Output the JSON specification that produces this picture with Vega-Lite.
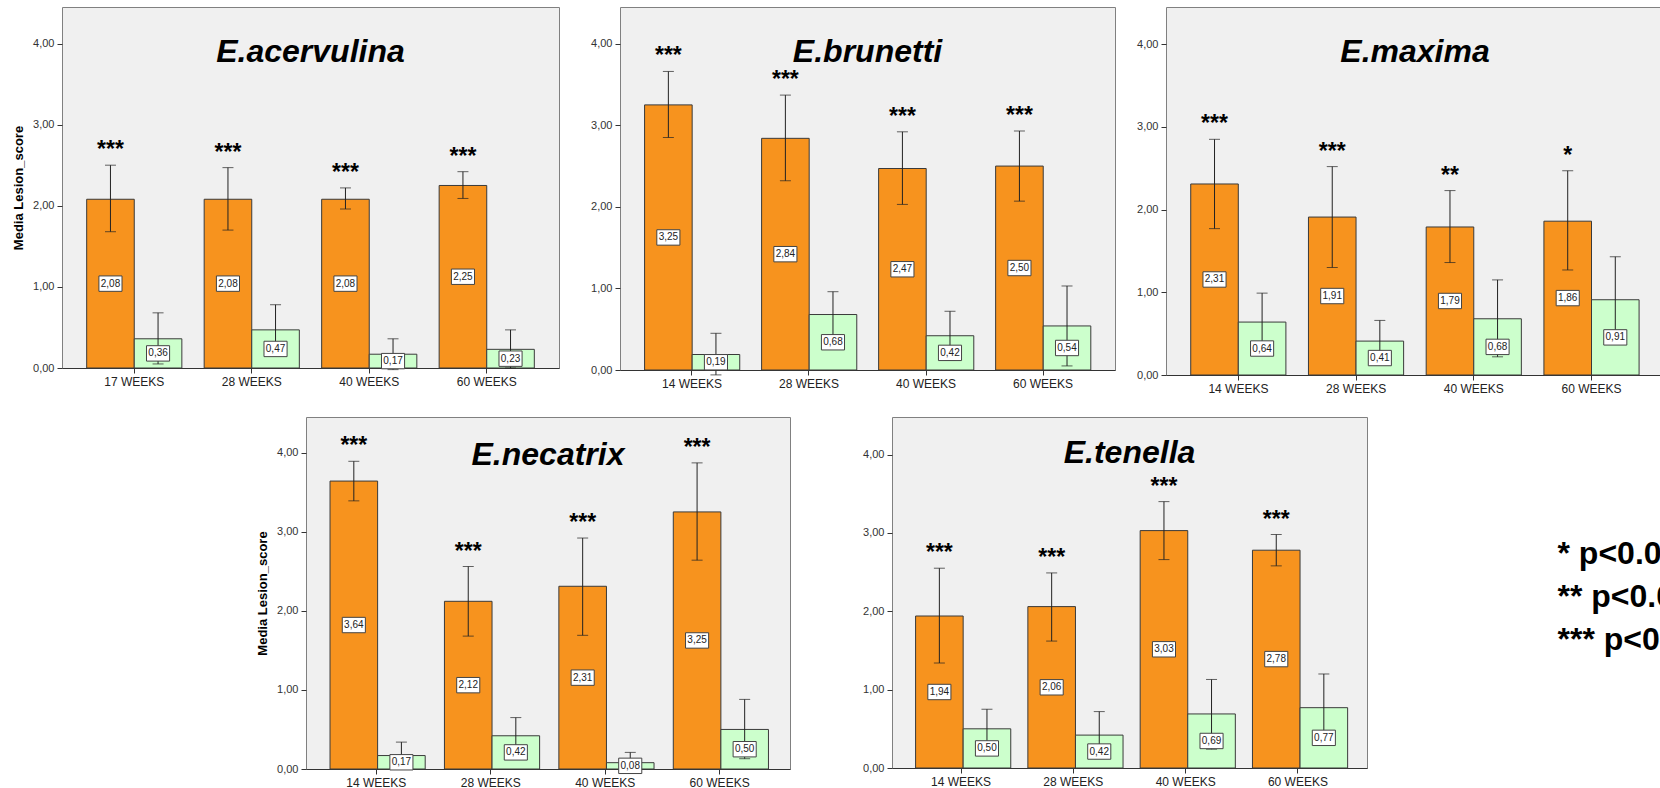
{
  "$schema": "https://vega.github.io/schema/vega-lite/v6.json",
  "padding": {"left": 11, "top": 6, "right": 0, "bottom": 0},
  "background": "white",
  "config": {
    "locale": {"number": {"decimal": ",", "thousands": ".", "grouping": [3], "currency": ["", " €"]}},
    "view": {"fill": "#F0F0F0", "stroke": "#808080", "strokeWidth": 1},
    "font": "Liberation Sans",
    "text": {"font": "Liberation Sans"},
    "axisX": {"labelAngle": 0, "labelFontSize": 12, "tickSize": 5, "labelPadding": 3, "domainColor": "#333333", "tickColor": "#333333", "labelColor": "#222222", "title": null},
    "axisY": {"grid": false, "domain": false, "tickSize": 5, "tickColor": "#333333", "labelPadding": 3, "labelFontSize": 11, "labelColor": "#333333", "titleFontSize": 13, "titleFontWeight": "bold", "titlePadding": 5, "titleColor": "black"}
  },
  "datasets": {
    "lesion": [
      {"species": "E.acervulina", "week": "17 WEEKS", "group": "A", "mean": 2.08, "lo": 1.68, "hi": 2.50, "sig": "***"},
      {"species": "E.acervulina", "week": "17 WEEKS", "group": "B", "mean": 0.36, "lo": 0.05, "hi": 0.68, "sig": ""},
      {"species": "E.acervulina", "week": "28 WEEKS", "group": "A", "mean": 2.08, "lo": 1.70, "hi": 2.47, "sig": "***"},
      {"species": "E.acervulina", "week": "28 WEEKS", "group": "B", "mean": 0.47, "lo": 0.16, "hi": 0.78, "sig": ""},
      {"species": "E.acervulina", "week": "40 WEEKS", "group": "A", "mean": 2.08, "lo": 1.96, "hi": 2.22, "sig": "***"},
      {"species": "E.acervulina", "week": "40 WEEKS", "group": "B", "mean": 0.17, "lo": -0.02, "hi": 0.36, "sig": ""},
      {"species": "E.acervulina", "week": "60 WEEKS", "group": "A", "mean": 2.25, "lo": 2.09, "hi": 2.42, "sig": "***"},
      {"species": "E.acervulina", "week": "60 WEEKS", "group": "B", "mean": 0.23, "lo": 0.00, "hi": 0.47, "sig": ""},
      {"species": "E.brunetti", "week": "14 WEEKS", "group": "A", "mean": 3.25, "lo": 2.85, "hi": 3.66, "sig": "***"},
      {"species": "E.brunetti", "week": "14 WEEKS", "group": "B", "mean": 0.19, "lo": -0.06, "hi": 0.45, "sig": ""},
      {"species": "E.brunetti", "week": "28 WEEKS", "group": "A", "mean": 2.84, "lo": 2.32, "hi": 3.37, "sig": "***"},
      {"species": "E.brunetti", "week": "28 WEEKS", "group": "B", "mean": 0.68, "lo": 0.39, "hi": 0.96, "sig": ""},
      {"species": "E.brunetti", "week": "40 WEEKS", "group": "A", "mean": 2.47, "lo": 2.03, "hi": 2.92, "sig": "***"},
      {"species": "E.brunetti", "week": "40 WEEKS", "group": "B", "mean": 0.42, "lo": 0.12, "hi": 0.72, "sig": ""},
      {"species": "E.brunetti", "week": "60 WEEKS", "group": "A", "mean": 2.50, "lo": 2.07, "hi": 2.93, "sig": "***"},
      {"species": "E.brunetti", "week": "60 WEEKS", "group": "B", "mean": 0.54, "lo": 0.05, "hi": 1.03, "sig": ""},
      {"species": "E.maxima", "week": "14 WEEKS", "group": "A", "mean": 2.31, "lo": 1.77, "hi": 2.85, "sig": "***"},
      {"species": "E.maxima", "week": "14 WEEKS", "group": "B", "mean": 0.64, "lo": 0.29, "hi": 0.99, "sig": ""},
      {"species": "E.maxima", "week": "28 WEEKS", "group": "A", "mean": 1.91, "lo": 1.30, "hi": 2.52, "sig": "***"},
      {"species": "E.maxima", "week": "28 WEEKS", "group": "B", "mean": 0.41, "lo": 0.16, "hi": 0.66, "sig": ""},
      {"species": "E.maxima", "week": "40 WEEKS", "group": "A", "mean": 1.79, "lo": 1.36, "hi": 2.23, "sig": "**"},
      {"species": "E.maxima", "week": "40 WEEKS", "group": "B", "mean": 0.68, "lo": 0.22, "hi": 1.15, "sig": ""},
      {"species": "E.maxima", "week": "60 WEEKS", "group": "A", "mean": 1.86, "lo": 1.27, "hi": 2.47, "sig": "*"},
      {"species": "E.maxima", "week": "60 WEEKS", "group": "B", "mean": 0.91, "lo": 0.39, "hi": 1.43, "sig": ""},
      {"species": "E.necatrix", "week": "14 WEEKS", "group": "A", "mean": 3.64, "lo": 3.39, "hi": 3.89, "sig": "***"},
      {"species": "E.necatrix", "week": "14 WEEKS", "group": "B", "mean": 0.17, "lo": 0.00, "hi": 0.34, "sig": ""},
      {"species": "E.necatrix", "week": "28 WEEKS", "group": "A", "mean": 2.12, "lo": 1.68, "hi": 2.56, "sig": "***"},
      {"species": "E.necatrix", "week": "28 WEEKS", "group": "B", "mean": 0.42, "lo": 0.19, "hi": 0.65, "sig": ""},
      {"species": "E.necatrix", "week": "40 WEEKS", "group": "A", "mean": 2.31, "lo": 1.69, "hi": 2.92, "sig": "***"},
      {"species": "E.necatrix", "week": "40 WEEKS", "group": "B", "mean": 0.08, "lo": -0.04, "hi": 0.21, "sig": ""},
      {"species": "E.necatrix", "week": "60 WEEKS", "group": "A", "mean": 3.25, "lo": 2.64, "hi": 3.87, "sig": "***"},
      {"species": "E.necatrix", "week": "60 WEEKS", "group": "B", "mean": 0.50, "lo": 0.13, "hi": 0.88, "sig": ""},
      {"species": "E.tenella", "week": "14 WEEKS", "group": "A", "mean": 1.94, "lo": 1.34, "hi": 2.55, "sig": "***"},
      {"species": "E.tenella", "week": "14 WEEKS", "group": "B", "mean": 0.50, "lo": 0.25, "hi": 0.75, "sig": ""},
      {"species": "E.tenella", "week": "28 WEEKS", "group": "A", "mean": 2.06, "lo": 1.62, "hi": 2.49, "sig": "***"},
      {"species": "E.tenella", "week": "28 WEEKS", "group": "B", "mean": 0.42, "lo": 0.12, "hi": 0.72, "sig": ""},
      {"species": "E.tenella", "week": "40 WEEKS", "group": "A", "mean": 3.03, "lo": 2.66, "hi": 3.40, "sig": "***"},
      {"species": "E.tenella", "week": "40 WEEKS", "group": "B", "mean": 0.69, "lo": 0.24, "hi": 1.13, "sig": ""},
      {"species": "E.tenella", "week": "60 WEEKS", "group": "A", "mean": 2.78, "lo": 2.58, "hi": 2.98, "sig": "***"},
      {"species": "E.tenella", "week": "60 WEEKS", "group": "B", "mean": 0.77, "lo": 0.34, "hi": 1.20, "sig": ""}
    ]
  },
  "spacing": 21,
  "vconcat": [
    {
      "spacing": 17,
      "hconcat": [
        {
          "width": 497, "height": 361,
          "data": {"name": "lesion"},
          "transform": [{"filter": {"field": "species", "equal": "E.acervulina"}}],
          "title": {"text": "E.acervulina", "offset": -87, "baseline": "alphabetic", "frame": "group", "anchor": "middle", "fontSize": 32, "fontStyle": "italic", "fontWeight": "bold", "font": "Liberation Sans", "color": "black"},
          "encoding": {
            "x": {"field": "week", "type": "nominal", "sort": null, "scale": {"paddingInner": 0.19, "paddingOuter": 0.21}},
            "xOffset": {"field": "group", "type": "nominal", "sort": null, "scale": {"paddingInner": 0, "paddingOuter": 0}}
          },
          "layer": [
            {"layer": [
              {"mark": {"type": "bar", "stroke": "#3a3a3a", "strokeWidth": 1},
               "encoding": {
                 "y": {"field": "mean", "type": "quantitative", "scale": {"domain": [0, 4.45], "nice": false}, "axis": {"title": "Media Lesion_score", "values": [0, 1, 2, 3, 4], "format": ".2f", "minExtent": 32, "maxExtent": 32}},
                 "color": {"field": "group", "type": "nominal", "scale": {"domain": ["A", "B"], "range": ["#F7931E", "#CCFFCC"]}, "legend": null}}},
              {"mark": {"type": "rule", "color": "#222222", "strokeWidth": 1},
               "encoding": {"y": {"field": "lo", "type": "quantitative"}, "y2": {"field": "hi"}}},
              {"mark": {"type": "tick", "color": "#222222", "size": 11, "thickness": 1},
               "encoding": {"y": {"field": "lo", "type": "quantitative"}}},
              {"mark": {"type": "tick", "color": "#222222", "size": 11, "thickness": 1},
               "encoding": {"y": {"field": "hi", "type": "quantitative"}}},
              {"mark": {"type": "text", "fontSize": 23, "fontWeight": "bold", "baseline": "alphabetic", "dy": -8, "color": "black"},
               "encoding": {"y": {"field": "hi", "type": "quantitative"}, "text": {"field": "sig"}}}
            ]},
            {"layer": [
              {"mark": {"type": "point", "shape": "M-1.5,-1H1.5V1H-1.5Z", "size": 237, "filled": true, "fill": "white", "stroke": "#444444", "strokeWidth": 1, "opacity": 1},
               "encoding": {"y": {"field": "mean", "type": "quantitative", "scale": {"domain": [0, 8.9], "nice": false}, "axis": null}}},
              {"mark": {"type": "text", "fontSize": 10, "baseline": "middle", "color": "#222222"},
               "encoding": {"y": {"field": "mean", "type": "quantitative", "axis": null}, "text": {"field": "mean", "type": "quantitative", "format": ".2f"}}}
            ]}
          ],
          "resolve": {"scale": {"y": "independent"}}
        },
        {
          "width": 495, "height": 363,
          "data": {"name": "lesion"},
          "transform": [{"filter": {"field": "species", "equal": "E.brunetti"}}],
          "title": {"text": "E.brunetti", "offset": -87, "baseline": "alphabetic", "frame": "group", "anchor": "middle", "fontSize": 32, "fontStyle": "italic", "fontWeight": "bold", "font": "Liberation Sans", "color": "black"},
          "encoding": {
            "x": {"field": "week", "type": "nominal", "sort": null, "scale": {"paddingInner": 0.19, "paddingOuter": 0.21}},
            "xOffset": {"field": "group", "type": "nominal", "sort": null, "scale": {"paddingInner": 0, "paddingOuter": 0}}
          },
          "layer": [
            {"layer": [
              {"mark": {"type": "bar", "stroke": "#3a3a3a", "strokeWidth": 1},
               "encoding": {
                 "y": {"field": "mean", "type": "quantitative", "scale": {"domain": [0, 4.45], "nice": false}, "axis": {"title": null, "values": [0, 1, 2, 3, 4], "format": ".2f", "minExtent": 42, "maxExtent": 42}},
                 "color": {"field": "group", "type": "nominal", "scale": {"domain": ["A", "B"], "range": ["#F7931E", "#CCFFCC"]}, "legend": null}}},
              {"mark": {"type": "rule", "color": "#222222", "strokeWidth": 1},
               "encoding": {"y": {"field": "lo", "type": "quantitative"}, "y2": {"field": "hi"}}},
              {"mark": {"type": "tick", "color": "#222222", "size": 11, "thickness": 1},
               "encoding": {"y": {"field": "lo", "type": "quantitative"}}},
              {"mark": {"type": "tick", "color": "#222222", "size": 11, "thickness": 1},
               "encoding": {"y": {"field": "hi", "type": "quantitative"}}},
              {"mark": {"type": "text", "fontSize": 23, "fontWeight": "bold", "baseline": "alphabetic", "dy": -8, "color": "black"},
               "encoding": {"y": {"field": "hi", "type": "quantitative"}, "text": {"field": "sig"}}}
            ]},
            {"layer": [
              {"mark": {"type": "point", "shape": "M-1.5,-1H1.5V1H-1.5Z", "size": 237, "filled": true, "fill": "white", "stroke": "#444444", "strokeWidth": 1, "opacity": 1},
               "encoding": {"y": {"field": "mean", "type": "quantitative", "scale": {"domain": [0, 8.9], "nice": false}, "axis": null}}},
              {"mark": {"type": "text", "fontSize": 10, "baseline": "middle", "color": "#222222"},
               "encoding": {"y": {"field": "mean", "type": "quantitative", "axis": null}, "text": {"field": "mean", "type": "quantitative", "format": ".2f"}}}
            ]}
          ],
          "resolve": {"scale": {"y": "independent"}}
        },
        {
          "width": 498, "height": 368,
          "data": {"name": "lesion"},
          "transform": [{"filter": {"field": "species", "equal": "E.maxima"}}],
          "title": {"text": "E.maxima", "offset": -87, "baseline": "alphabetic", "frame": "group", "anchor": "middle", "fontSize": 32, "fontStyle": "italic", "fontWeight": "bold", "font": "Liberation Sans", "color": "black"},
          "encoding": {
            "x": {"field": "week", "type": "nominal", "sort": null, "scale": {"paddingInner": 0.19, "paddingOuter": 0.21}},
            "xOffset": {"field": "group", "type": "nominal", "sort": null, "scale": {"paddingInner": 0, "paddingOuter": 0}}
          },
          "layer": [
            {"layer": [
              {"mark": {"type": "bar", "stroke": "#3a3a3a", "strokeWidth": 1},
               "encoding": {
                 "y": {"field": "mean", "type": "quantitative", "scale": {"domain": [0, 4.45], "nice": false}, "axis": {"title": null, "values": [0, 1, 2, 3, 4], "format": ".2f", "minExtent": 32, "maxExtent": 32}},
                 "color": {"field": "group", "type": "nominal", "scale": {"domain": ["A", "B"], "range": ["#F7931E", "#CCFFCC"]}, "legend": null}}},
              {"mark": {"type": "rule", "color": "#222222", "strokeWidth": 1},
               "encoding": {"y": {"field": "lo", "type": "quantitative"}, "y2": {"field": "hi"}}},
              {"mark": {"type": "tick", "color": "#222222", "size": 11, "thickness": 1},
               "encoding": {"y": {"field": "lo", "type": "quantitative"}}},
              {"mark": {"type": "tick", "color": "#222222", "size": 11, "thickness": 1},
               "encoding": {"y": {"field": "hi", "type": "quantitative"}}},
              {"mark": {"type": "text", "fontSize": 23, "fontWeight": "bold", "baseline": "alphabetic", "dy": -8, "color": "black"},
               "encoding": {"y": {"field": "hi", "type": "quantitative"}, "text": {"field": "sig"}}}
            ]},
            {"layer": [
              {"mark": {"type": "point", "shape": "M-1.5,-1H1.5V1H-1.5Z", "size": 237, "filled": true, "fill": "white", "stroke": "#444444", "strokeWidth": 1, "opacity": 1},
               "encoding": {"y": {"field": "mean", "type": "quantitative", "scale": {"domain": [0, 8.9], "nice": false}, "axis": null}}},
              {"mark": {"type": "text", "fontSize": 10, "baseline": "middle", "color": "#222222"},
               "encoding": {"y": {"field": "mean", "type": "quantitative", "axis": null}, "text": {"field": "mean", "type": "quantitative", "format": ".2f"}}}
            ]}
          ],
          "resolve": {"scale": {"y": "independent"}}
        }
      ]
    },
    {
      "spacing": 68,
      "hconcat": [
        {
          "width": 125, "height": 352,
          "data": {"values": []},
          "mark": {"type": "point", "opacity": 0},
          "view": {"fill": null, "stroke": null}
        },
        {
          "width": 484, "height": 352,
          "data": {"name": "lesion"},
          "transform": [{"filter": {"field": "species", "equal": "E.necatrix"}}],
          "title": {"text": "E.necatrix", "offset": -80, "baseline": "alphabetic", "frame": "group", "anchor": "middle", "fontSize": 32, "fontStyle": "italic", "fontWeight": "bold", "font": "Liberation Sans", "color": "black"},
          "encoding": {
            "x": {"field": "week", "type": "nominal", "sort": null, "scale": {"paddingInner": 0.19, "paddingOuter": 0.21}},
            "xOffset": {"field": "group", "type": "nominal", "sort": null, "scale": {"paddingInner": 0, "paddingOuter": 0}}
          },
          "layer": [
            {"layer": [
              {"mark": {"type": "bar", "stroke": "#3a3a3a", "strokeWidth": 1},
               "encoding": {
                 "y": {"field": "mean", "type": "quantitative", "scale": {"domain": [0, 4.45], "nice": false}, "axis": {"title": "Media Lesion_score", "values": [0, 1, 2, 3, 4], "format": ".2f", "minExtent": 32, "maxExtent": 32}},
                 "color": {"field": "group", "type": "nominal", "scale": {"domain": ["A", "B"], "range": ["#F7931E", "#CCFFCC"]}, "legend": null}}},
              {"mark": {"type": "rule", "color": "#222222", "strokeWidth": 1},
               "encoding": {"y": {"field": "lo", "type": "quantitative"}, "y2": {"field": "hi"}}},
              {"mark": {"type": "tick", "color": "#222222", "size": 11, "thickness": 1},
               "encoding": {"y": {"field": "lo", "type": "quantitative"}}},
              {"mark": {"type": "tick", "color": "#222222", "size": 11, "thickness": 1},
               "encoding": {"y": {"field": "hi", "type": "quantitative"}}},
              {"mark": {"type": "text", "fontSize": 23, "fontWeight": "bold", "baseline": "alphabetic", "dy": -8, "color": "black"},
               "encoding": {"y": {"field": "hi", "type": "quantitative"}, "text": {"field": "sig"}}}
            ]},
            {"layer": [
              {"mark": {"type": "point", "shape": "M-1.5,-1H1.5V1H-1.5Z", "size": 237, "filled": true, "fill": "white", "stroke": "#444444", "strokeWidth": 1, "opacity": 1},
               "encoding": {"y": {"field": "mean", "type": "quantitative", "scale": {"domain": [0, 8.9], "nice": false}, "axis": null}}},
              {"mark": {"type": "text", "fontSize": 10, "baseline": "middle", "color": "#222222"},
               "encoding": {"y": {"field": "mean", "type": "quantitative", "axis": null}, "text": {"field": "mean", "type": "quantitative", "format": ".2f"}}}
            ]}
          ],
          "resolve": {"scale": {"y": "independent"}}
        },
        {
          "width": 475, "height": 351,
          "data": {"name": "lesion"},
          "transform": [{"filter": {"field": "species", "equal": "E.tenella"}}],
          "title": {"text": "E.tenella", "offset": -78, "baseline": "alphabetic", "frame": "group", "anchor": "middle", "fontSize": 32, "fontStyle": "italic", "fontWeight": "bold", "font": "Liberation Sans", "color": "black"},
          "encoding": {
            "x": {"field": "week", "type": "nominal", "sort": null, "scale": {"paddingInner": 0.19, "paddingOuter": 0.21}},
            "xOffset": {"field": "group", "type": "nominal", "sort": null, "scale": {"paddingInner": 0, "paddingOuter": 0}}
          },
          "layer": [
            {"layer": [
              {"mark": {"type": "bar", "stroke": "#3a3a3a", "strokeWidth": 1},
               "encoding": {
                 "y": {"field": "mean", "type": "quantitative", "scale": {"domain": [0, 4.48], "nice": false}, "axis": {"title": null, "values": [0, 1, 2, 3, 4], "format": ".2f", "minExtent": 32, "maxExtent": 32}},
                 "color": {"field": "group", "type": "nominal", "scale": {"domain": ["A", "B"], "range": ["#F7931E", "#CCFFCC"]}, "legend": null}}},
              {"mark": {"type": "rule", "color": "#222222", "strokeWidth": 1},
               "encoding": {"y": {"field": "lo", "type": "quantitative"}, "y2": {"field": "hi"}}},
              {"mark": {"type": "tick", "color": "#222222", "size": 11, "thickness": 1},
               "encoding": {"y": {"field": "lo", "type": "quantitative"}}},
              {"mark": {"type": "tick", "color": "#222222", "size": 11, "thickness": 1},
               "encoding": {"y": {"field": "hi", "type": "quantitative"}}},
              {"mark": {"type": "text", "fontSize": 23, "fontWeight": "bold", "baseline": "alphabetic", "dy": -8, "color": "black"},
               "encoding": {"y": {"field": "hi", "type": "quantitative"}, "text": {"field": "sig"}}}
            ]},
            {"layer": [
              {"mark": {"type": "point", "shape": "M-1.5,-1H1.5V1H-1.5Z", "size": 237, "filled": true, "fill": "white", "stroke": "#444444", "strokeWidth": 1, "opacity": 1},
               "encoding": {"y": {"field": "mean", "type": "quantitative", "scale": {"domain": [0, 8.96], "nice": false}, "axis": null}}},
              {"mark": {"type": "text", "fontSize": 10, "baseline": "middle", "color": "#222222"},
               "encoding": {"y": {"field": "mean", "type": "quantitative", "axis": null}, "text": {"field": "mean", "type": "quantitative", "format": ".2f"}}}
            ]}
          ],
          "resolve": {"scale": {"y": "independent"}}
        },
        {
          "width": 225, "height": 352,
          "data": {"values": [
            {"line": 1, "txt": "* p<0.05"},
            {"line": 2, "txt": "** p<0.01"},
            {"line": 3, "txt": "*** p<0.001"}
          ]},
          "mark": {"type": "text", "align": "left", "baseline": "alphabetic", "fontSize": 32, "fontWeight": "bold", "font": "Liberation Sans", "color": "black", "clip": true, "dx": 9},
          "encoding": {
            "y": {"field": "line", "type": "quantitative", "scale": {"domain": [-2.42, 5.77], "reverse": true, "nice": false, "zero": false}, "axis": null},
            "text": {"field": "txt"}
          },
          "view": {"fill": null, "stroke": null}
        }
      ]
    }
  ]
}
